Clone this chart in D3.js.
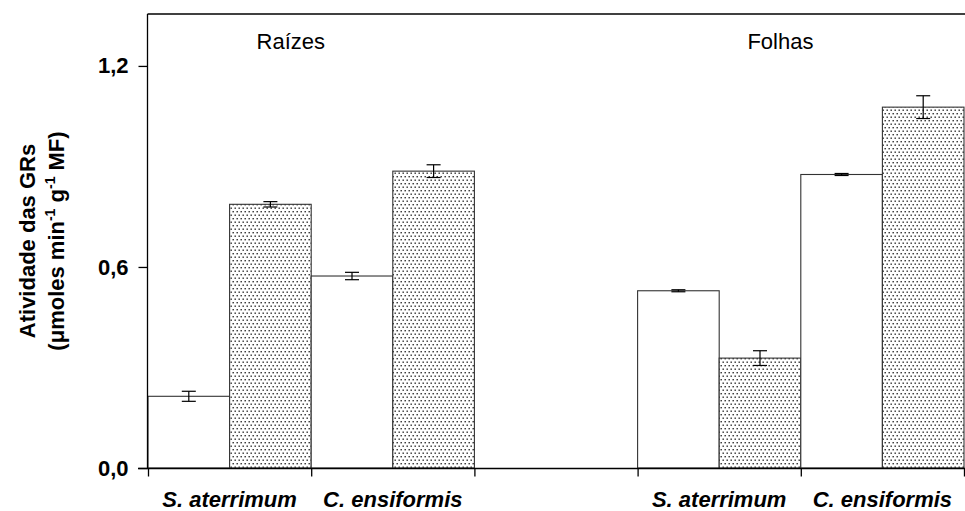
<html>
<head>
    <meta charset="utf-8">
    <title>Atividade das GRs</title>
    <script src="https://d3js.org/d3.v7.min.js"></script>
    <style>
        body { margin: 0; background: #fff; }
        svg { font-family: "Liberation Sans", Arial, sans-serif; display: block; }
        .tick-label { font-size: 22px; font-weight: bold; fill: #000; }
        .cat-label { font-size: 22px; font-weight: bold; font-style: italic; fill: #000; }
        .panel-label { font-size: 22px; fill: #000; }
        .y-title { font-size: 22px; font-weight: bold; fill: #000; }
    </style>
</head>
<body>
<div id="chart"></div>
<script>
    // data (two panels, two species, two treatments each)
    var panels = ["Raízes", "Folhas"];
    var species = ["S. aterrimum", "C. ensiformis"];
    var raizesMean = [0.214, 0.787, 0.573, 0.886];
    var raizesErr = [0.015, 0.008, 0.011, 0.019];
    var folhasMean = [0.529, 0.328, 0.876, 1.077];
    var folhasErr = [0.003, 0.022, 0.003, 0.034];
    var yTicks = [0, 0.6, 1.2];

    var width = 965;
    var height = 511;
    var plotLeft = 148;
    var plotTop = 14;
    var plotBottom = 468;
    var slot = 81.6;

    var svg = d3.select("#chart").append("svg")
        .attr("width", width)
        .attr("height", height);

    /* dotted fill */
    var pat = svg.append("defs").append("pattern")
        .attr("id", "dots")
        .attr("patternUnits", "userSpaceOnUse")
        .attr("width", 4)
        .attr("height", 7);
    pat.append("rect").attr("width", 4).attr("height", 7).attr("fill", "#fff");
    pat.append("rect").attr("x", 0.5).attr("y", 1).attr("width", 1.4).attr("height", 1.4).attr("fill", "#2a2a2a");
    pat.append("rect").attr("x", 2.5).attr("y", 4.5).attr("width", 1.4).attr("height", 1.4).attr("fill", "#2a2a2a");

    // 4 bars per panel, 2 empty slots between panels
    var x = d3.scaleLinear().domain([0, 10]).range([plotLeft, plotLeft + 10 * slot]);
    var y = d3.scaleLinear().domain([0, 1.355]).range([plotBottom, plotTop]);

    var bars = [];
    [raizesMean, folhasMean].forEach(function(vals, p) {
        var errs = p === 0 ? raizesErr : folhasErr;
        vals.forEach(function(v, i) {
            bars.push({panel: p, idx: i, value: v, err: errs[i], pos: p * 6 + i});
        });
    });

    /* bars */
    svg.append("g").selectAll("rect")
        .data(bars).enter()
        .append("rect")
        .attr("x", d => x(d.pos))
        .attr("y", d => y(d.value))
        .attr("width", d => x(d.pos + 1) - x(d.pos))
        .attr("height", d => y(0) - y(d.value))
        .attr("fill", d => d.idx % 2 === 0 ? "#fff" : "url(#dots)")
        .attr("stroke", "#333")
        .attr("stroke-width", 1.1);

    /* error bars */
    var eb = svg.append("g").attr("stroke", "#000").attr("stroke-width", 1.2);
    bars.forEach(function(d) {
        var cx = x(d.pos + 0.5);
        eb.append("line").attr("x1", cx).attr("x2", cx)
            .attr("y1", y(d.value + d.err)).attr("y2", y(d.value - d.err));
        [d.value + d.err, d.value - d.err].forEach(function(v) {
            eb.append("line").attr("x1", cx - 7).attr("x2", cx + 7)
                .attr("y1", y(v)).attr("y2", y(v));
        });
    });

    /* frame top */
    svg.append("line")
        .attr("x1", plotLeft - 0.5).attr("x2", width + 50)
        .attr("y1", plotTop).attr("y2", plotTop)
        .attr("stroke", "#000").attr("stroke-width", 1.3);

    /* y axis */
    var yAxis = d3.axisLeft(y).tickValues(yTicks).tickSize(9).tickPadding(10)
        .tickFormat(d => d3.format(".1f")(d).replace(".", ","));
    var gy = svg.append("g")
        .attr("transform", `translate(${plotLeft - 0.5},0)`)
        .call(yAxis);
    gy.select(".domain").attr("d", `M0,${plotTop}V${plotBottom}`).attr("stroke-width", 1.3);
    gy.selectAll(".tick line").attr("stroke-width", 1.3);
    gy.selectAll(".tick text").attr("class", "tick-label");
    gy.attr("font-size", null).attr("font-family", null);

    /* x axis */
    var xAxis = d3.axisBottom(x).tickValues([0, 2, 4, 6, 8, 10]).tickSize(8).tickFormat("");
    var gx = svg.append("g")
        .attr("transform", `translate(0,${plotBottom + 0.5})`)
        .call(xAxis);
    gx.select(".domain").attr("d", `M${plotLeft - 10},0H${width + 50}`).attr("stroke-width", 1.3);
    gx.selectAll(".tick line").attr("stroke-width", 1.3);

    /* species labels */
    var cats = [];
    panels.forEach(function(p, pi) {
        species.forEach(function(s, si) {
            cats.push({name: s, pos: pi * 6 + si * 2 + 1});
        });
    });
    svg.append("g").selectAll("text")
        .data(cats).enter()
        .append("text")
        .attr("class", "cat-label")
        .attr("x", d => x(d.pos))
        .attr("y", 507)
        .attr("text-anchor", "middle")
        .text(d => d.name);

    /* panel labels */
    svg.append("g").selectAll("text")
        .data(panels).enter()
        .append("text")
        .attr("class", "panel-label")
        .attr("x", (d, i) => x(i * 6 + 1.75))
        .attr("y", 49)
        .attr("text-anchor", "middle")
        .text(d => d);

    /* y title, two lines */
    var midY = (plotTop + plotBottom) / 2;
    svg.append("text")
        .attr("class", "y-title")
        .attr("transform", `translate(35,${midY}) rotate(-90)`)
        .attr("text-anchor", "middle")
        .text("Atividade das GRs");
    var t2 = svg.append("text")
        .attr("class", "y-title")
        .attr("transform", `translate(64,${midY}) rotate(-90)`)
        .attr("text-anchor", "middle");
    t2.append("tspan").text("(\u03bcmoles min");
    t2.append("tspan").attr("dy", -9).attr("font-size", 14).text("-1");
    t2.append("tspan").attr("dy", 9).text(" g");
    t2.append("tspan").attr("dy", -9).attr("font-size", 14).text("-1");
    t2.append("tspan").attr("dy", 9).text(" MF)");
</script>
</body>
</html>
